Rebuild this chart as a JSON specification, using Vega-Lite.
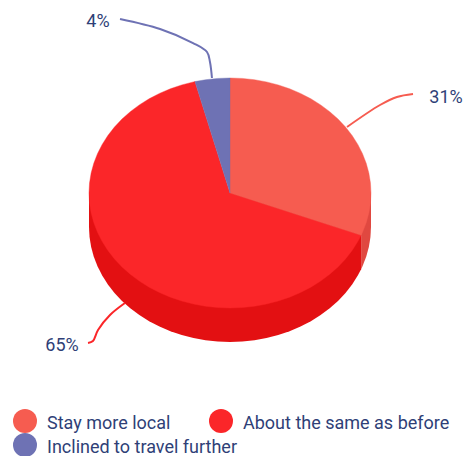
{"$schema":"https://vega.github.io/schema/vega-lite/v6.json","width":464,"height":456,"padding":0,"autosize":{"type":"none"},"background":"white","config":{"view":{"stroke":null}},
"datasets":{
"wallA":[{"x":1,"y":-0.2957},{"x":0.9962,"y":-0.3829},{"x":0.9848,"y":-0.4693},{"x":0.9659,"y":-0.5545},{"x":0.9397,"y":-0.6377},{"x":0.9298,"y":-0.6638}],
"wallB":[{"x":0.9298,"y":-0.6638},{"x":0.9063,"y":-0.7183},{"x":0.866,"y":-0.7957},{"x":0.8192,"y":-0.8693},{"x":0.766,"y":-0.9385},{"x":0.7071,"y":-1.0028},{"x":0.6428,"y":-1.0617},{"x":0.5736,"y":-1.1149},{"x":0.5,"y":-1.1617},{"x":0.4226,"y":-1.202},{"x":0.342,"y":-1.2354},{"x":0.2588,"y":-1.2616},{"x":0.1736,"y":-1.2805},{"x":0.0872,"y":-1.2919},{"x":0,"y":-1.2957},{"x":-0.0872,"y":-1.2919},{"x":-0.1736,"y":-1.2805},{"x":-0.2588,"y":-1.2616},{"x":-0.342,"y":-1.2354},{"x":-0.4226,"y":-1.202},{"x":-0.5,"y":-1.1617},{"x":-0.5736,"y":-1.1149},{"x":-0.6428,"y":-1.0617},{"x":-0.7071,"y":-1.0028},{"x":-0.766,"y":-0.9385},{"x":-0.8192,"y":-0.8693},{"x":-0.866,"y":-0.7957},{"x":-0.9063,"y":-0.7183},{"x":-0.9397,"y":-0.6377},{"x":-0.9659,"y":-0.5545},{"x":-0.9848,"y":-0.4693},{"x":-0.9962,"y":-0.3829},{"x":-1,"y":-0.2957}],
"top":[
{"s":"About the same as before","i":0,"x":0,"y":0},{"s":"About the same as before","i":1,"x":0.9298,"y":-0.3681},{"s":"About the same as before","i":2,"x":0.9063,"y":-0.4226},{"s":"About the same as before","i":3,"x":0.866,"y":-0.5},{"s":"About the same as before","i":4,"x":0.8192,"y":-0.5736},{"s":"About the same as before","i":5,"x":0.766,"y":-0.6428},{"s":"About the same as before","i":6,"x":0.7071,"y":-0.7071},{"s":"About the same as before","i":7,"x":0.6428,"y":-0.766},{"s":"About the same as before","i":8,"x":0.5736,"y":-0.8192},{"s":"About the same as before","i":9,"x":0.5,"y":-0.866},{"s":"About the same as before","i":10,"x":0.4226,"y":-0.9063},{"s":"About the same as before","i":11,"x":0.342,"y":-0.9397},{"s":"About the same as before","i":12,"x":0.2588,"y":-0.9659},{"s":"About the same as before","i":13,"x":0.1736,"y":-0.9848},{"s":"About the same as before","i":14,"x":0.0872,"y":-0.9962},{"s":"About the same as before","i":15,"x":0,"y":-1},{"s":"About the same as before","i":16,"x":-0.0872,"y":-0.9962},{"s":"About the same as before","i":17,"x":-0.1736,"y":-0.9848},{"s":"About the same as before","i":18,"x":-0.2588,"y":-0.9659},{"s":"About the same as before","i":19,"x":-0.342,"y":-0.9397},{"s":"About the same as before","i":20,"x":-0.4226,"y":-0.9063},{"s":"About the same as before","i":21,"x":-0.5,"y":-0.866},{"s":"About the same as before","i":22,"x":-0.5736,"y":-0.8192},{"s":"About the same as before","i":23,"x":-0.6428,"y":-0.766},{"s":"About the same as before","i":24,"x":-0.7071,"y":-0.7071},{"s":"About the same as before","i":25,"x":-0.766,"y":-0.6428},{"s":"About the same as before","i":26,"x":-0.8192,"y":-0.5736},{"s":"About the same as before","i":27,"x":-0.866,"y":-0.5},{"s":"About the same as before","i":28,"x":-0.9063,"y":-0.4226},{"s":"About the same as before","i":29,"x":-0.9397,"y":-0.342},{"s":"About the same as before","i":30,"x":-0.9659,"y":-0.2588},{"s":"About the same as before","i":31,"x":-0.9848,"y":-0.1736},{"s":"About the same as before","i":32,"x":-0.9962,"y":-0.0872},{"s":"About the same as before","i":33,"x":-1,"y":0},{"s":"About the same as before","i":34,"x":-0.9962,"y":0.0872},{"s":"About the same as before","i":35,"x":-0.9848,"y":0.1736},{"s":"About the same as before","i":36,"x":-0.9659,"y":0.2588},{"s":"About the same as before","i":37,"x":-0.9397,"y":0.342},{"s":"About the same as before","i":38,"x":-0.9063,"y":0.4226},{"s":"About the same as before","i":39,"x":-0.866,"y":0.5},{"s":"About the same as before","i":40,"x":-0.8192,"y":0.5736},{"s":"About the same as before","i":41,"x":-0.766,"y":0.6428},{"s":"About the same as before","i":42,"x":-0.7071,"y":0.7071},{"s":"About the same as before","i":43,"x":-0.6428,"y":0.766},{"s":"About the same as before","i":44,"x":-0.5736,"y":0.8192},{"s":"About the same as before","i":45,"x":-0.5,"y":0.866},{"s":"About the same as before","i":46,"x":-0.4226,"y":0.9063},{"s":"About the same as before","i":47,"x":-0.342,"y":0.9397},{"s":"About the same as before","i":48,"x":-0.2588,"y":0.9659},{"s":"About the same as before","i":49,"x":-0.2487,"y":0.9686},
{"s":"Stay more local","i":0,"x":0,"y":0},{"s":"Stay more local","i":1,"x":0,"y":1},{"s":"Stay more local","i":2,"x":0.0872,"y":0.9962},{"s":"Stay more local","i":3,"x":0.1736,"y":0.9848},{"s":"Stay more local","i":4,"x":0.2588,"y":0.9659},{"s":"Stay more local","i":5,"x":0.342,"y":0.9397},{"s":"Stay more local","i":6,"x":0.4226,"y":0.9063},{"s":"Stay more local","i":7,"x":0.5,"y":0.866},{"s":"Stay more local","i":8,"x":0.5736,"y":0.8192},{"s":"Stay more local","i":9,"x":0.6428,"y":0.766},{"s":"Stay more local","i":10,"x":0.7071,"y":0.7071},{"s":"Stay more local","i":11,"x":0.766,"y":0.6428},{"s":"Stay more local","i":12,"x":0.8192,"y":0.5736},{"s":"Stay more local","i":13,"x":0.866,"y":0.5},{"s":"Stay more local","i":14,"x":0.9063,"y":0.4226},{"s":"Stay more local","i":15,"x":0.9397,"y":0.342},{"s":"Stay more local","i":16,"x":0.9659,"y":0.2588},{"s":"Stay more local","i":17,"x":0.9848,"y":0.1736},{"s":"Stay more local","i":18,"x":0.9962,"y":0.0872},{"s":"Stay more local","i":19,"x":1,"y":0},{"s":"Stay more local","i":20,"x":0.9962,"y":-0.0872},{"s":"Stay more local","i":21,"x":0.9848,"y":-0.1736},{"s":"Stay more local","i":22,"x":0.9659,"y":-0.2588},{"s":"Stay more local","i":23,"x":0.9397,"y":-0.342},{"s":"Stay more local","i":24,"x":0.9298,"y":-0.3681},
{"s":"Inclined to travel further","i":0,"x":0,"y":0},{"s":"Inclined to travel further","i":1,"x":-0.2487,"y":0.9686},{"s":"Inclined to travel further","i":2,"x":-0.1736,"y":0.9848},{"s":"Inclined to travel further","i":3,"x":-0.0872,"y":0.9962},{"s":"Inclined to travel further","i":4,"x":0,"y":1}
],
"leaders":[
{"s":"Stay more local","i":0,"x":0.83,"y":0.574},{"s":"Stay more local","i":1,"x":1.064,"y":0.765},{"s":"Stay more local","i":2,"x":1.184,"y":0.835},{"s":"Stay more local","i":3,"x":1.298,"y":0.861},
{"s":"Inclined to travel further","i":0,"x":-0.128,"y":1.0},{"s":"Inclined to travel further","i":1,"x":-0.142,"y":1.139},{"s":"Inclined to travel further","i":2,"x":-0.163,"y":1.226},{"s":"Inclined to travel further","i":3,"x":-0.262,"y":1.304},{"s":"Inclined to travel further","i":4,"x":-0.496,"y":1.426},{"s":"Inclined to travel further","i":5,"x":-0.78,"y":1.513},
{"s":"About the same as before","i":0,"x":-0.745,"y":-0.957},{"s":"About the same as before","i":1,"x":-0.851,"y":-1.061},{"s":"About the same as before","i":2,"x":-0.936,"y":-1.191},{"s":"About the same as before","i":3,"x":-0.972,"y":-1.287},{"s":"About the same as before","i":4,"x":-1.007,"y":-1.304}
],
"labels":[{"t":"31%","x":1.532,"y":0.843},{"t":"4%","x":-0.936,"y":1.504},{"t":"65%","x":-1.191,"y":-1.313}]
},
"encoding":{
"x":{"field":"x","type":"quantitative","scale":{"domain":[-1.6312,1.6596],"nice":false,"zero":false},"axis":null},
"y":{"field":"y","type":"quantitative","scale":{"domain":[-2.287,1.678],"nice":false,"zero":false},"axis":null}
},
"layer":[
{"data":{"name":"wallA"},"mark":{"type":"area","color":"#e04840","opacity":1,"interpolate":"linear"},"encoding":{"y2":{"datum":0}}},
{"data":{"name":"wallB"},"mark":{"type":"area","color":"#e31012","opacity":1,"interpolate":"linear"},"encoding":{"y2":{"datum":0}}},
{"data":{"name":"top"},"mark":{"type":"line","interpolate":"linear-closed","strokeWidth":0.4,"opacity":1,"fillOpacity":1},
"encoding":{"order":{"field":"i","type":"quantitative"},
"detail":{"field":"s"},
"stroke":{"field":"s","type":"nominal","scale":{"domain":["About the same as before","Stay more local","Inclined to travel further"],"range":["#fb2629","#f65c50","#6e72b4"]},
"legend":{"title":null,"orient":"none","legendX":209,"legendY":409,"values":["About the same as before"],"padding":0,"symbolType":"circle","symbolSize":576,"symbolStrokeWidth":0,"symbolFillColor":"#fb2629","symbolOpacity":1,"labelOffset":10,"labelFont":"Roboto","labelFontSize":18,"labelColor":"#2f3f77","labelLimit":300,"encoding":{"labels":{"dy":{"value":3}}}}},
"fill":{"field":"s","type":"nominal","scale":{"domain":["Stay more local","About the same as before","Inclined to travel further"],"range":["#f65c50","#fb2629","#6e72b4"]},
"legend":{"title":null,"orient":"none","legendX":13,"legendY":409,"values":["Stay more local","Inclined to travel further"],"rowPadding":0,"padding":0,"symbolType":"circle","symbolSize":576,"symbolStrokeWidth":0,"symbolOpacity":1,"labelOffset":10,"labelFont":"Roboto","labelFontSize":18,"labelColor":"#2f3f77","labelLimit":300,"encoding":{"labels":{"dy":{"value":3}}}}}}},
{"data":{"name":"leaders"},"mark":{"type":"line","interpolate":"catmull-rom","strokeWidth":2,"opacity":1},
"encoding":{"order":{"field":"i","type":"quantitative"},"stroke":{"field":"s","type":"nominal","scale":{"domain":["About the same as before","Stay more local","Inclined to travel further"],"range":["#fb2629","#f65c50","#6e72b4"]},
"legend":{"title":null,"orient":"none","legendX":209,"legendY":409,"values":["About the same as before"],"padding":0,"symbolType":"circle","symbolSize":576,"symbolStrokeWidth":0,"symbolFillColor":"#fb2629","symbolOpacity":1,"labelOffset":10,"labelFont":"Roboto","labelFontSize":18,"labelColor":"#2f3f77","labelLimit":300,"encoding":{"labels":{"dy":{"value":3}}}}}}},
{"data":{"name":"labels"},"mark":{"type":"text","font":"Roboto","fontSize":18,"color":"#2f3f77","align":"center","baseline":"middle","dy":2},"encoding":{"text":{"field":"t"}}}
]}
